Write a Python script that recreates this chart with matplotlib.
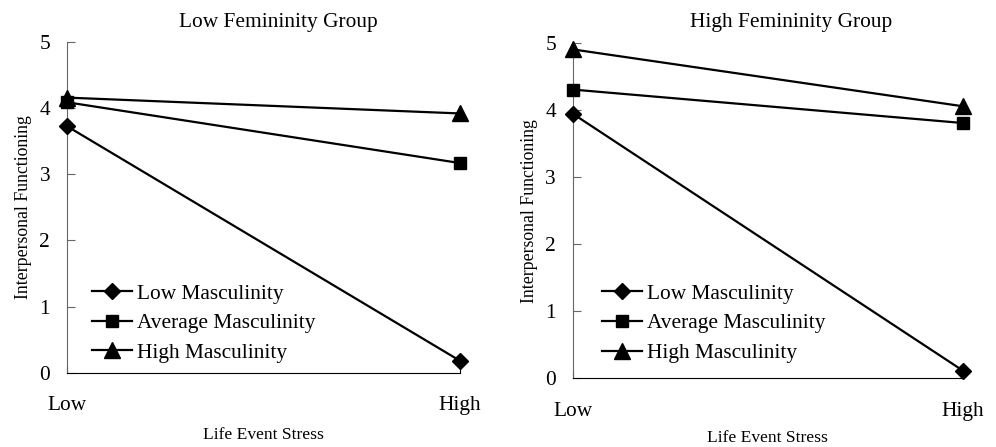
import matplotlib
matplotlib.use("Agg")
import matplotlib.pyplot as plt

plt.rcParams['font.family'] = ['Liberation Serif', 'DejaVu Serif']

stress_levels = ["Low", "High"]
series_names = ["Low Masculinity", "Average Masculinity", "High Masculinity"]
markers = ["D", "s", "^"]
marker_sizes = [8, 8, 11]

low_fem = {
    "Low Masculinity": [3.73, 0.18],
    "Average Masculinity": [4.09, 3.17],
    "High Masculinity": [4.16, 3.92],
}
high_fem = {
    "Low Masculinity": [3.95, 0.11],
    "Average Masculinity": [4.31, 3.81],
    "High Masculinity": [4.91, 4.06],
}
titles = ["Low Femininity Group", "High Femininity Group"]
y_ticks = [0, 1, 2, 3, 4, 5]

fig = plt.figure(figsize=(9.96, 4.47), dpi=100)
rects = [[0.067, 0.166, 0.395, 0.740], [0.575, 0.154, 0.392, 0.749]]
groups = [low_fem, high_fem]
title_x = [0.537, 0.559]
title_pad = [11, 12]
legend_anchor = [(0.064, 0.03), (0.074, 0.045)]
xlabel_pad = [8.5, 7.0]

for i, (rect, data, title) in enumerate(zip(rects, groups, titles)):
    ax = fig.add_axes(rect)
    xs = list(range(len(stress_levels)))
    for name, m, ms in zip(series_names, markers, marker_sizes):
        ax.plot(xs, data[name], color="black", lw=1.6, marker=m, ms=ms,
                label=name, clip_on=False, zorder=3)
    ax.set_xlim(0, 1)
    ax.set_ylim(0, 5)
    ax.set_yticks(y_ticks)
    ax.set_xticks(xs)
    ax.set_xticklabels(stress_levels)
    ax.spines['top'].set_visible(False)
    ax.spines['right'].set_visible(False)
    ax.spines['left'].set_color('#666666')
    ax.spines['bottom'].set_color('black')
    ax.tick_params(axis='y', direction='in', length=6, color='#666666',
                   labelsize=15.4, pad=12)
    ax.tick_params(axis='x', direction='in', length=5, labelsize=15.4, pad=17)
    ax.set_title(title, fontsize=15.4, pad=title_pad[i], x=title_x[i])
    ax.set_ylabel("Interpersonal Functioning", fontsize=12.8, labelpad=5)
    ax.set_xlabel("Life Event Stress", fontsize=12.6, labelpad=xlabel_pad[i])
    ax.legend(loc="lower left", bbox_to_anchor=legend_anchor[i], frameon=False,
              fontsize=15.4, handlelength=1.87, handletextpad=0.23,
              labelspacing=0.45, borderpad=0, borderaxespad=0)

fig.savefig("out.png", dpi=100)
